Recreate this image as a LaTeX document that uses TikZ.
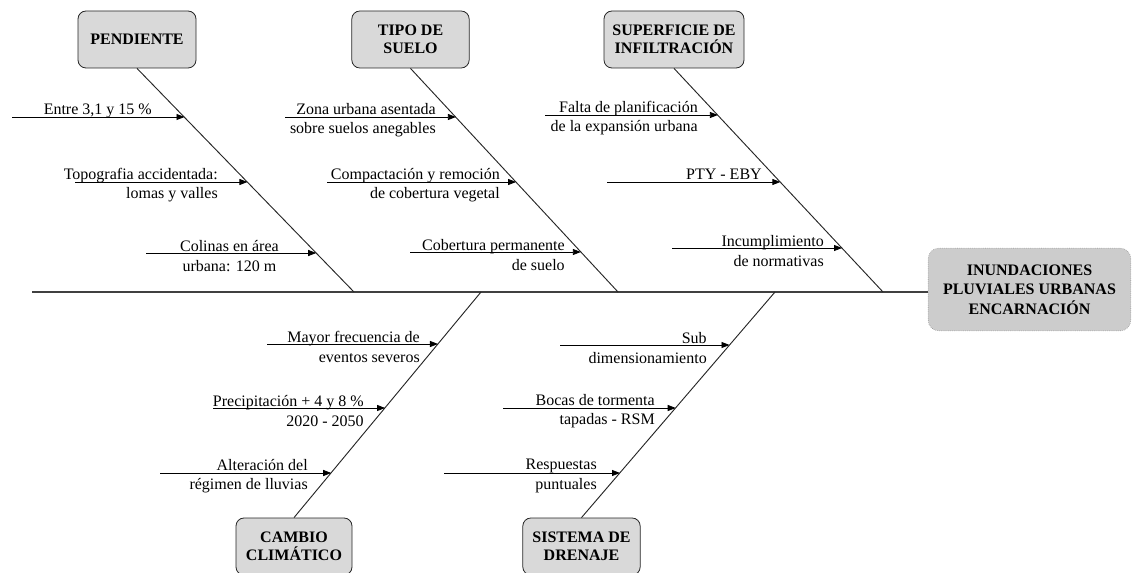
\documentclass[tikz,border=0pt]{standalone}
\usepackage{fontspec}
\setmainfont{Liberation Serif}
\usetikzlibrary{arrows.meta,positioning}

\begin{document}
\begin{tikzpicture}[
    x=0.75pt, y=-0.75pt,
    font=\fontsize{12}{14.5}\selectfont,
    cat/.style={draw=black!85, fill=gray!30, rounded corners=6pt, line width=0.6pt,
      align=center, font=\fontsize{12}{13.5}\selectfont\bfseries,
      minimum height=42.75pt, inner sep=2pt},
    effect/.style={draw=gray, densely dotted, fill=gray!40, rounded corners=8pt,
      align=center, font=\fontsize{12}{14.5}\selectfont\bfseries,
      minimum width=152pt, minimum height=62pt},
    spine/.style={draw=black!75, line width=1pt},
    bone/.style={draw=black!85, line width=0.7pt},
    cause/.style={-{Triangle[length=6pt,width=4.5pt]}, line width=0.6pt},
    lbl/.style={inner sep=0pt, align=right, anchor=east}
]
  \useasboundingbox (0,0) rectangle (1132,573);

  % Cajas de categorias
  \node[cat, minimum width=88.5pt] (pend) at (137,39.5) {PENDIENTE};
  \node[cat, minimum width=88pt] (suelo) at (410.5,39.5) {TIPO DE\\SUELO};
  \node[cat, minimum width=105pt] (infil) at (674,39.5) {SUPERFICIE DE\\INFILTRACIÓN};
  \node[cat, minimum width=87pt] (clima) at (294,546.5) {CAMBIO\\CLIMÁTICO};
  \node[cat, minimum width=88pt] (drena) at (581.5,546.5) {SISTEMA DE\\DRENAJE};
  \node[effect] (efecto) at (1029.5,289.5) {INUNDACIONES\\PLUVIALES URBANAS\\ENCARNACIÓN};

  % Espina central
  \coordinate (cola) at (32,292);
  \draw[spine] (cola) -- (cola -| efecto.west);

  % Espinas
  \coordinate (pendB) at (354,292);
  \coordinate (sueloB) at (618,292);
  \coordinate (infilB) at (883,292);
  \coordinate (climaB) at (481,292);
  \coordinate (drenaB) at (775,292);
  \draw[bone] (pend.south) -- (pendB);
  \draw[bone] (suelo.south) -- (sueloB);
  \draw[bone] (infil.south) -- (infilB);
  \draw[bone] (climaB) -- (clima.north);
  \draw[bone] (drenaB) -- (drena.north);

  % Puntos de llegada sobre las espinas
  \path (pend.south) -- (pendB) coordinate[pos=0.219] (p1e) coordinate[pos=0.509] (p2e) coordinate[pos=0.826] (p3e);
  \path (suelo.south) -- (sueloB) coordinate[pos=0.219] (s1e) coordinate[pos=0.509] (s2e) coordinate[pos=0.821] (s3e);
  \path (infil.south) -- (infilB) coordinate[pos=0.210] (i1e) coordinate[pos=0.509] (i2e) coordinate[pos=0.804] (i3e);
  \path (climaB) -- (clima.north) coordinate[pos=0.230] (c1e) coordinate[pos=0.513] (c2e) coordinate[pos=0.801] (c3e);
  \path (drenaB) -- (drena.north) coordinate[pos=0.235] (d1e) coordinate[pos=0.513] (d2e) coordinate[pos=0.801] (d3e);

  % Pendiente
  \coordinate (p1s) at (12,117);
  \coordinate (p2s) at (75,182);
  \coordinate (p3s) at (146,253);
  \draw[cause] (p1s) -- (p1s -| p1e);
  \draw[cause] (p2s) -- (p2s -| p2e);
  \draw[cause] (p3s) -- (p3s -| p3e);
  \node[lbl, anchor=base east] (p1) at (152,115) {Entre 3,1 y 15 \%};
  \node[lbl] (p2) at (218,185) {Topografia accidentada:\\lomas y valles};
  \node[lbl, align=center] (p3) at (279,256) {Colinas en área\\urbana: 120 m};

  % Tipo de suelo
  \coordinate (s1s) at (285,117);
  \coordinate (s2s) at (327,182);
  \coordinate (s3s) at (410,252);
  \draw[cause] (s1s) -- (s1s -| s1e);
  \draw[cause] (s2s) -- (s2s -| s2e);
  \draw[cause] (s3s) -- (s3s -| s3e);
  \node[lbl] (s1) at (436,120) {Zona urbana asentada\\sobre suelos anegables};
  \node[lbl] (s2) at (500,185) {Compactación y remoción\\de cobertura vegetal};
  \node[lbl] (s3) at (565,255) {Cobertura permanente\\de suelo};

  % Superficie de infiltracion
  \coordinate (i1s) at (545,115);
  \coordinate (i2s) at (607,182);
  \coordinate (i3s) at (672,248);
  \draw[cause] (i1s) -- (i1s -| i1e);
  \draw[cause] (i2s) -- (i2s -| i2e);
  \draw[cause] (i3s) -- (i3s -| i3e);
  \node[lbl] (i1) at (698,118) {Falta de planificación\\de la expansión urbana};
  \node[lbl, anchor=base east] (i2) at (762,180) {PTY - EBY};
  \node[lbl] (i3) at (824,251) {Incumplimiento\\de normativas};

  % Cambio climatico
  \coordinate (c1s) at (267,344);
  \coordinate (c2s) at (213,408);
  \coordinate (c3s) at (160,473);
  \draw[cause] (c1s) -- (c1s -| c1e);
  \draw[cause] (c2s) -- (c2s -| c2e);
  \draw[cause] (c3s) -- (c3s -| c3e);
  \node[lbl] (c1) at (420,347) {Mayor frecuencia de\\eventos severos};
  \node[lbl] (c2) at (364,411) {Precipitación + 4 y 8 \%\\2020 - 2050};
  \node[lbl] (c3) at (308,476) {Alteración del\\régimen de lluvias};

  % Sistema de drenaje
  \coordinate (d1s) at (560,345);
  \coordinate (d2s) at (503,408);
  \coordinate (d3s) at (444,473);
  \draw[cause] (d1s) -- (d1s -| d1e);
  \draw[cause] (d2s) -- (d2s -| d2e);
  \draw[cause] (d3s) -- (d3s -| d3e);
  \node[lbl] (d1) at (707,348) {Sub\\dimensionamiento};
  \node[lbl] (d2) at (655,411) {Bocas de tormenta\\tapadas - RSM};
  \node[lbl] (d3) at (597,476) {Respuestas\\puntuales};
\end{tikzpicture}
\end{document}
